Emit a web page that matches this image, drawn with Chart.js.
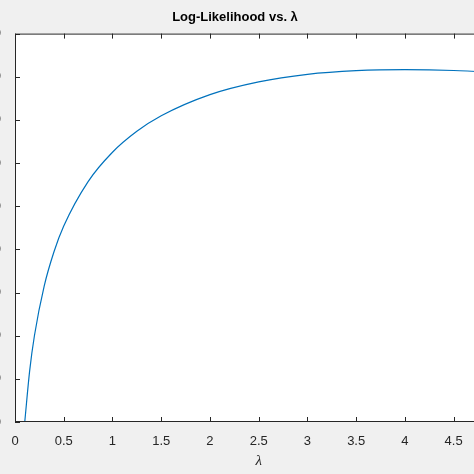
<!DOCTYPE html><html><head><style>body{margin:0;background:#f0f0f0;overflow:hidden;width:474px;height:474px;position:relative}#w{position:absolute;left:-35px;top:0;width:545px;height:474px}</style>
<script src="https://cdn.jsdelivr.net/npm/chart.js@4"></script></head><body><div id="w"><canvas id="c"></canvas></div><script>
const lambdas=[0.1,0.15,0.2,0.3,0.4,0.5,0.75,1,1.25,1.5,2,2.5,3,3.5,4,4.5,5];
const logLik=[-1800,-1564,-1398,-1169,-1011,-892,-686,-550,-453,-381,-283,-224,-189,-172,-167,-171,-183];
const xTicks=[0,0.5,1,1.5,2,2.5,3,3.5,4,4.5,5];
const pts=lambdas.map((x,i)=>({x,y:logLik[i]}));
const bg={id:'bg',beforeDraw(ch){const a=ch.chartArea,c=ch.ctx;c.save();c.fillStyle='#fff';c.fillRect(a.left,a.top,a.right-a.left,a.bottom-a.top);c.restore();},
afterDraw(ch){const a=ch.chartArea,c=ch.ctx;c.save();c.strokeStyle='#262626';c.lineWidth=1;c.strokeRect(a.left+.5,a.top+.5,a.right-a.left-1,a.bottom-a.top-1);
c.beginPath();ch.scales.x.ticks.forEach(t=>{const p=Math.round(ch.scales.x.getPixelForValue(t.value))+.5;c.moveTo(p,a.bottom);c.lineTo(p,a.bottom-5);c.moveTo(p,a.top);c.lineTo(p,a.top+5);});
ch.scales.y.ticks.forEach(t=>{const p=Math.round(ch.scales.y.getPixelForValue(t.value))+.5;c.moveTo(a.left,p);c.lineTo(a.left+5,p);c.moveTo(a.right,p);c.lineTo(a.right-5,p);});c.stroke();c.restore();}};
new Chart(document.getElementById('c'),{type:'scatter',data:{datasets:[{data:pts,showLine:true,borderColor:'#0072bd',borderWidth:1.2,pointRadius:0,tension:0.4,cubicInterpolationMode:'monotone'}]},
options:{responsive:true,maintainAspectRatio:false,animation:false,layout:{padding:{right:5}},
plugins:{legend:{display:false},tooltip:{enabled:false},title:{display:true,text:'Log-Likelihood vs. λ',color:'#000',font:{family:'Arial, Liberation Sans',size:13,weight:'bold'},padding:{top:10,bottom:8}}},
scales:{x:{type:'linear',min:0,max:5,afterBuildTicks(s){s.ticks=xTicks.map(v=>({value:v}));},grid:{display:false},border:{display:false},ticks:{color:'#262626',font:{family:'Liberation Sans',size:13},padding:4,maxRotation:0,autoSkip:false,callback:v=>String(v)},
title:{display:true,text:'λ',color:'#262626',font:{family:'Liberation Serif',size:15,style:'italic'},padding:{top:0}},afterFit(s){s.height=52;}},
y:{min:-1800,max:0,ticks:{stepSize:200,color:'#262626',font:{family:'Liberation Sans',size:13},padding:6},grid:{display:false},border:{display:false},afterFit(s){s.width=50;}}}},plugins:[bg]});
</script></body></html>
